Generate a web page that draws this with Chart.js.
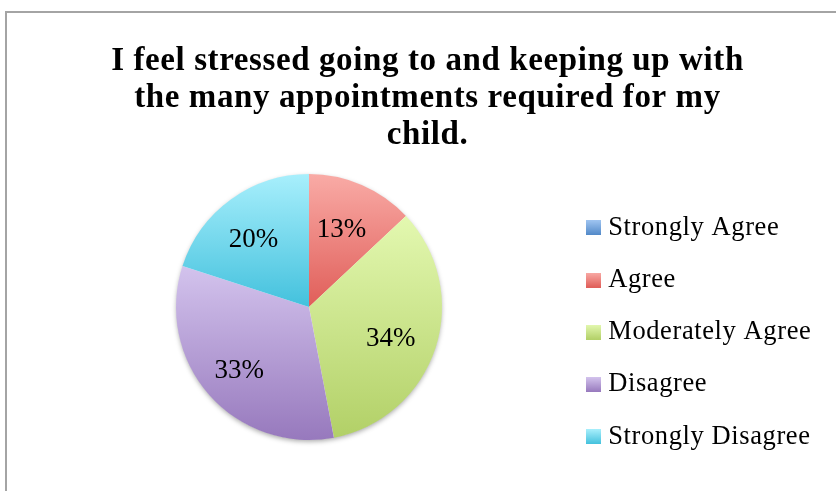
<!DOCTYPE html>
<html>
<head>
<meta charset="utf-8">
<script src="https://cdn.jsdelivr.net/npm/chart.js@4/dist/chart.umd.min.js"></script>
<style>
  html, body { margin: 0; padding: 0; background: #ffffff; overflow: hidden; }
  body { width: 836px; height: 491px; position: relative; }
  #frame {
    position: absolute; left: 5px; top: 11px;
    width: 841px; height: 478px;
    border-left: 2px solid #a4a4a4; border-top: 2px solid #a4a4a4;
    background: #ffffff;
  }
  #chart { display: block; }
</style>
</head>
<body>
<div id="frame"><canvas id="chart" width="830" height="478"></canvas></div>
<script>
// Survey answers and their share of respondents (percent)
const categories = ['Strongly Agree', 'Agree', 'Moderately Agree', 'Disagree', 'Strongly Disagree'];
const percentages = [0, 13, 34, 33, 20];
const titleLines = [
  'I feel stressed going to and keeping up with',
  'the many appointments required for my',
  'child.'
];

// Light (top) and dark (bottom) stops of each slice's vertical gradient
const lightColors = ['#9fc4f1', '#f9aba6', '#e3f8b0', '#d3c3ed', '#a8effc'];
const darkColors  = ['#5188c8', '#e05e59', '#b2d067', '#9779bd', '#43c1dd'];

const SERIF = '"Liberation Serif", "Times New Roman", serif';

// Vertical gradient spanning one slice's own bounding box
function sliceGradient(context) {
  const chart = context.chart;
  const i = context.dataIndex;
  const area = chart.chartArea;
  if (!area) return darkColors[i];
  const cx = (area.left + area.right) / 2;
  const cy = (area.top + area.bottom) / 2;
  const r = Math.min(area.right - area.left, area.bottom - area.top) / 2;
  const total = percentages.reduce((a, b) => a + b, 0);
  const before = percentages.slice(0, i).reduce((a, b) => a + b, 0);
  const start = -Math.PI / 2 + before / total * Math.PI * 2;
  const end = start + percentages[i] / total * Math.PI * 2;
  const ys = [cy, cy + r * Math.sin(start), cy + r * Math.sin(end)];
  [-Math.PI / 2, Math.PI / 2, Math.PI * 1.5].forEach(a => {
    if (a >= start && a <= end) ys.push(cy + r * Math.sin(a));
  });
  const top = Math.min(...ys), bottom = Math.max(...ys);
  const g = chart.ctx.createLinearGradient(0, top, 0, Math.max(bottom, top + 1));
  g.addColorStop(0, lightColors[i]);
  g.addColorStop(1, darkColors[i]);
  return g;
}

// Small gradient swatches used as legend markers
function swatch(i) {
  const c = document.createElement('canvas');
  c.width = 15; c.height = 15;
  const x = c.getContext('2d');
  const g = x.createLinearGradient(0, 0, 0, 15);
  g.addColorStop(0, lightColors[i]);
  g.addColorStop(1, darkColors[i]);
  x.fillStyle = g;
  x.fillRect(0, 0, 15, 15);
  return c;
}
const swatches = categories.map((_, i) => swatch(i));

// Slightly looser tracking for the title and legend text
const textTracking = {
  id: 'textTracking',
  beforeDraw(chart) {
    if ('letterSpacing' in chart.ctx) chart.ctx.letterSpacing = '0.6px';
  },
  beforeDatasetsDraw(chart) {
    if ('letterSpacing' in chart.ctx) chart.ctx.letterSpacing = '0px';
  }
};

// The legend box is kept narrow for layout; let its labels run past its right edge
const legendOverflow = {
  id: 'legendOverflow',
  afterLayout(chart) {
    const lg = chart.legend;
    if (lg) { lg.width += 40; lg.right += 40; }
  }
};

// Soft drop shadow under the whole pie
const pieShadow = {
  id: 'pieShadow',
  beforeDatasetsDraw(chart) {
    const arc = chart.getDatasetMeta(0).data[0];
    if (!arc) return;
    const p = arc.getProps(['x', 'y', 'outerRadius'], true);
    const ctx = chart.ctx;
    ctx.save();
    ctx.shadowColor = 'rgba(0,0,0,0.35)';
    ctx.shadowBlur = 5;
    ctx.shadowOffsetY = 2;
    ctx.fillStyle = '#ffffff';
    ctx.beginPath();
    ctx.arc(p.x, p.y, p.outerRadius - 0.5, 0, Math.PI * 2);
    ctx.fill();
    ctx.restore();
  }
};

// Percentage labels placed inside each slice
const sliceLabels = {
  id: 'sliceLabels',
  afterDatasetsDraw(chart) {
    const ctx = chart.ctx;
    const meta = chart.getDatasetMeta(0);
    const size = 27;
    ctx.save();
    ctx.font = size + 'px ' + SERIF;
    ctx.fillStyle = '#000000';
    ctx.textAlign = 'center';
    ctx.textBaseline = 'alphabetic';
    meta.data.forEach((arc, i) => {
      const v = percentages[i];
      if (!v) return;
      const p = arc.getProps(['x', 'y', 'startAngle', 'endAngle', 'outerRadius'], true);
      const mid = (p.startAngle + p.endAngle) / 2;
      const d = p.outerRadius * 0.67;
      const x = p.x + Math.cos(mid) * d - 3;
      const y = p.y + Math.sin(mid) * d + 3;
      ctx.fillText(v + '%', x, y + size * 0.33);
    });
    ctx.restore();
  }
};

new Chart(document.getElementById('chart'), {
  type: 'pie',
  data: {
    labels: categories,
    datasets: [{
      data: percentages,
      backgroundColor: sliceGradient,
      borderWidth: 0
    }]
  },
  options: {
    responsive: false,
    animation: false,
    events: [],
    layout: { padding: { left: 44.75, right: 33.75, top: 0, bottom: 0 } },
    plugins: {
      title: {
        display: true,
        text: titleLines,
        color: '#000000',
        font: { family: SERIF, size: 33, weight: 'bold', lineHeight: 1.112 },
        padding: { top: 30.6, bottom: 20.3 }
      },
      subtitle: {
        display: true,
        position: 'bottom',
        text: ' ',
        font: { size: 10, lineHeight: 1 },
        padding: { top: 41, bottom: 0 }
      },
      legend: {
        position: 'right',
        align: 'start',
        maxWidth: 237,
        title: {
          display: true,
          text: ' ',
          font: { size: 10, lineHeight: 1 },
          padding: { top: 165.75, bottom: 0 }
        },
        labels: {
          usePointStyle: true,
          boxWidth: 3,
          padding: 25.75,
          color: '#000000',
          font: { family: SERIF, size: 26.5 },
          generateLabels: () => categories.map((name, i) => ({
            text: name,
            pointStyle: swatches[i],
            fillStyle: darkColors[i],
            strokeStyle: 'rgba(0,0,0,0)',
            fontColor: '#000000',
            lineWidth: 0,
            hidden: false,
            index: i
          }))
        }
      },
      tooltip: { enabled: false }
    }
  },
  plugins: [textTracking, legendOverflow, pieShadow, sliceLabels]
});
</script>
</body>
</html>
